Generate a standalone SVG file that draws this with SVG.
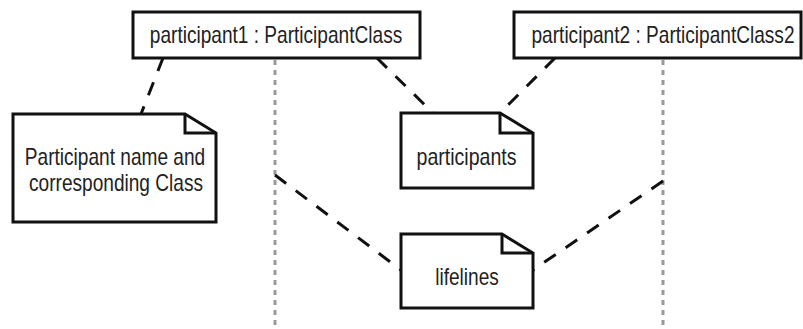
<svg xmlns="http://www.w3.org/2000/svg" width="803" height="329" viewBox="0 0 803 329">
<style>
.box{fill:#fff;stroke:#111;stroke-width:3}
.note{fill:#fff;stroke:#111;stroke-width:3;stroke-linejoin:miter}
.fold{fill:none;stroke:#111;stroke-width:3}
.life{stroke:#999;stroke-width:3;stroke-dasharray:5 5;fill:none}
.conn{stroke:#111;stroke-width:3;stroke-dasharray:14 12;fill:none}
text{font-family:"Liberation Sans",Arial,sans-serif;font-size:23px;fill:#222;text-anchor:middle}
</style>
<rect width="803" height="329" fill="#fff"/>
<g id="lifelines-lines">
<line class="life" x1="275" y1="60" x2="275" y2="329"/>
<line class="life" x1="663" y1="60" x2="663" y2="329"/>
</g>
<g id="connectors">
<line class="conn" x1="163" y1="58" x2="141" y2="114"/>
<line class="conn" x1="377" y1="58" x2="433" y2="113"/>
<line class="conn" x1="555" y1="58" x2="500" y2="113"/>
<line class="conn" x1="275" y1="175" x2="401" y2="270"/>
<line class="conn" x1="663" y1="181" x2="533" y2="270"/>
</g>
<g id="participant1">
<rect class="box" x="133" y="12" width="287" height="46"/>
<text transform="translate(276,43) scale(0.83,1)">participant1 : ParticipantClass</text>
</g>
<g id="participant2">
<rect class="box" x="514" y="12" width="287" height="46"/>
<text transform="translate(663,43) scale(0.83,1)">participant2 : ParticipantClass2</text>
</g>
<g id="note-name">
<path class="note" d="M13,114 H185 L216,133 V222 H13 Z"/>
<path class="fold" d="M185,114 V133 H216"/>
<text transform="translate(115,165) scale(0.83,1)">Participant name and</text>
<text transform="translate(116,191) scale(0.83,1)">corresponding Class</text>
</g>
<g id="note-participants">
<path class="note" d="M401,113 H500 L533,133 V188 H401 Z"/>
<path class="fold" d="M500,113 V133 H533"/>
<text transform="translate(466.5,165) scale(0.85,1)">participants</text>
</g>
<g id="note-lifelines">
<path class="note" d="M401,234 H502 L533,253 V308 H401 Z"/>
<path class="fold" d="M502,234 V253 H533"/>
<text transform="translate(467,285) scale(0.83,1)">lifelines</text>
</g>
</svg>
